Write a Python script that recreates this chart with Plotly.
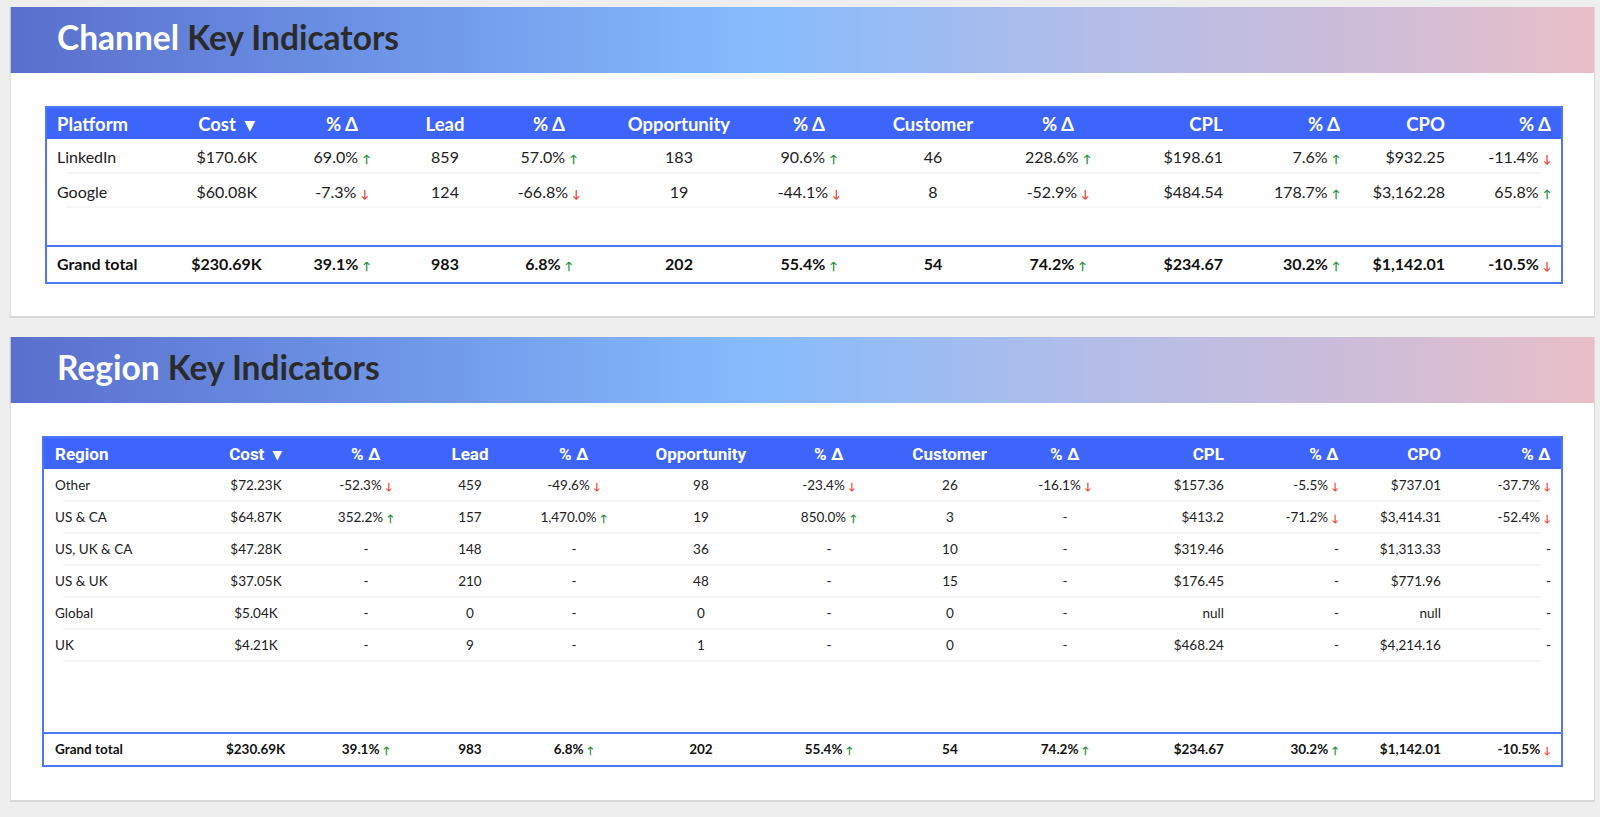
import plotly.graph_objects as go

W, H = 1600, 817

# ---------------- Channel data ----------------
platforms = ["LinkedIn", "Google"]
ch_cost_k = [170.6, 60.08]
ch_cost_chg = [69.0, -7.3]
ch_lead = [859, 124]
ch_lead_chg = [57.0, -66.8]
ch_opp = [183, 19]
ch_opp_chg = [90.6, -44.1]
ch_cust = [46, 8]
ch_cust_chg = [228.6, -52.9]
ch_cpl = [198.61, 484.54]
ch_cpl_chg = [7.6, 178.7]
ch_cpo = [932.25, 3162.28]
ch_cpo_chg = [-11.4, 65.8]

# ---------------- Region data ----------------
regions = ["Other", "US & CA", "US, UK & CA", "US & UK", "Global", "UK"]
rg_cost_k = [72.23, 64.87, 47.28, 37.05, 5.04, 4.21]
rg_cost_chg = [-52.3, 352.2, None, None, None, None]
rg_lead = [459, 157, 148, 210, 0, 9]
rg_lead_chg = [-49.6, 1470.0, None, None, None, None]
rg_opp = [98, 19, 36, 48, 0, 1]
rg_opp_chg = [-23.4, 850.0, None, None, None, None]
rg_cust = [26, 3, 10, 15, 0, 0]
rg_cust_chg = [-16.1, None, None, None, None, None]
rg_cpl = [157.36, 413.2, 319.46, 176.45, None, 468.24]
rg_cpl_chg = [-5.5, -71.2, None, None, None, None]
rg_cpo = [737.01, 3414.31, 1313.33, 771.96, None, 4214.16]
rg_cpo_chg = [-37.7, -52.4, None, None, None, None]

# grand totals (same for both tables)
total_cost_k = 230.69
total_cost_chg = 39.1
total_lead = 983
total_lead_chg = 6.8
total_opp = 202
total_opp_chg = 55.4
total_cust = 54
total_cust_chg = 74.2
total_cpl = 234.67
total_cpl_chg = 30.2
total_cpo = 1142.01
total_cpo_chg = -10.5

metric_headers = ["Cost\u00a0\u00a0▾", "%\u00a0Δ", "Lead", "%\u00a0Δ", "Opportunity", "%\u00a0Δ",
                  "Customer", "%\u00a0Δ", "CPL", "%\u00a0Δ", "CPO", "%\u00a0Δ"]

BLUE = "#3d65fb"
BORDER = "#4f76f6"
UP = "#1e8e3e"
DOWN = "#ea4335"
TXT = "#212121"
CLEAR = "rgba(0,0,0,0)"


def px_x(x):
    return x / W


def px_y(y):
    return 1 - y / H


def money_k(v):
    return f"${v}K"


def money(v):
    return "null" if v is None else f"${v:,}"


def pct(v, asize=11):
    if v is None:
        return "-"
    color = UP if v > 0 else DOWN
    sym = "↑" if v > 0 else "↓"
    # trailing <br> keeps the table from word-wrapping inside the span tag
    return f"{v:,.1f}%\u00a0<span style='color:{color};font-size:{asize}px'><b>{sym}</b></span><br>"


def mk(v):
    # every body cell goes through the same markup path so rows line up
    return f"<span>{v}</span>"


def body_columns(names, cost, cost_c, lead, lead_c, opp, opp_c, cust, cust_c, cpl, cpl_c, cpo, cpo_c, asize):
    cols = [
        names,
        [money_k(v) for v in cost], [pct(v, asize) for v in cost_c],
        [str(v) for v in lead], [pct(v, asize) for v in lead_c],
        [str(v) for v in opp], [pct(v, asize) for v in opp_c],
        [str(v) for v in cust], [pct(v, asize) for v in cust_c],
        [money(v) for v in cpl], [pct(v, asize) for v in cpl_c],
        [money(v) for v in cpo], [pct(v, asize) for v in cpo_c],
    ]
    return [[mk(v) for v in c] for c in cols]


def total_row(asize):
    vals = ["Grand\u00a0total", money_k(total_cost_k), pct(total_cost_chg, asize),
            str(total_lead), pct(total_lead_chg, asize), str(total_opp), pct(total_opp_chg, asize),
            str(total_cust), pct(total_cust_chg, asize), money(total_cpl), pct(total_cpl_chg, asize),
            money(total_cpo), pct(total_cpo_chg, asize)]
    return [f"<b>{v}</b>" for v in vals]


ALIGN = ["left"] + ["center"] * 8 + ["right"] * 4

fig = go.Figure()
shapes = []
annotations = []

# page cards
cards = [(10.7, 7, 1594, 316, 73), (10.7, 337, 1594, 800, 403)]
for (x0, y0, x1, y1, yb) in cards:
    shapes.append(dict(type="rect", xref="paper", yref="paper", layer="below",
                       x0=px_x(x0 - 1), x1=px_x(x1 + 1), y0=px_y(y0), y1=px_y(y1 + 2),
                       fillcolor="#d8d8d8", line=dict(width=0)))
    shapes.append(dict(type="rect", xref="paper", yref="paper", layer="below",
                       x0=px_x(x0), x1=px_x(x1), y0=px_y(y0), y1=px_y(y1),
                       fillcolor="white", line=dict(width=0)))
    fig.add_trace(go.Scatter(
        x=[x0, x1, x1, x0, x0], y=[y0, y0, yb, yb, y0], mode="lines", fill="toself",
        line=dict(width=0), hoverinfo="skip", showlegend=False,
        fillgradient=dict(type="horizontal", colorscale=[
            [0, "#5a6fcd"], [0.22, "#6c92e5"], [0.47, "#85bbfd"],
            [0.68, "#b2bde8"], [0.85, "#cdbdd9"], [1, "#e8bfc7"]])))

titles = [("Channel", 37), ("Region", 367)]
for word, yc in titles:
    annotations.append(dict(
        xref="paper", yref="paper", x=px_x(55), y=px_y(yc), xanchor="left", yanchor="middle",
        showarrow=False, font=dict(family="Lato", size=33.5, color="white"),
        text=f"<b>{word} <span style='color:#2b2b2b'>Key Indicators</span></b>"))


def add_table(first_header, cols, widths, left, right, top, header_h, row_h, total_y, bottom,
              hfont, bfont, bsize, hsize, asize, inset):
    n_rows = len(cols[0])
    # text sits a little further in from the border than plotly's cell padding
    xdom = [px_x(left + inset), px_x(right - 3)]
    widths = [widths[0] - inset] + widths[1:-1] + [widths[-1] - 3]
    empty = [[] for _ in widths]
    # header band
    shapes.append(dict(type="rect", xref="paper", yref="paper", layer="below",
                       x0=px_x(left), x1=px_x(right), y0=px_y(top), y1=px_y(top + header_h),
                       fillcolor=BLUE, line=dict(width=0)))
    # header labels
    hh = round(hsize * 1.2 + 16)
    ht = top + header_h / 2 + 1.5 - 8 - hsize * 0.6
    fig.add_trace(go.Table(
        domain=dict(x=xdom, y=[px_y(ht + hh), px_y(ht)]),
        columnwidth=widths,
        header=dict(values=[f"<b>{first_header}</b>"] + [f"<b>{h}</b>" for h in metric_headers],
                    fill_color=CLEAR, line_color=CLEAR, align=ALIGN, height=hh,
                    font=dict(family=hfont, size=hsize, color="white")),
        cells=dict(values=empty, fill_color=CLEAR, line_color=CLEAR)))
    # body rows (blank spacer header of the same height as the band)
    fig.add_trace(go.Table(
        domain=dict(x=xdom, y=[px_y(total_y), px_y(top)]),
        columnwidth=widths,
        header=dict(values=[""] * len(widths), fill_color=CLEAR, line_color=CLEAR, height=header_h),
        cells=dict(values=cols, fill_color=CLEAR, line_color=CLEAR, align=ALIGN, height=row_h,
                   font=dict(family=bfont, size=bsize, color=TXT))))
    # grand total row
    fig.add_trace(go.Table(
        domain=dict(x=xdom, y=[px_y(bottom), px_y(total_y)]),
        columnwidth=widths,
        header=dict(values=total_row(asize), fill_color=CLEAR, line_color=CLEAR, align=ALIGN,
                    height=bottom - total_y, font=dict(family=bfont, size=bsize, color="#111111")),
        cells=dict(values=empty, fill_color=CLEAR, line_color=CLEAR)))
    for i in range(n_rows):
        ys = top + header_h + (i + 1) * row_h
        shapes.append(dict(type="line", xref="paper", yref="paper", layer="below",
                           x0=px_x(left + 20), x1=px_x(right - 20), y0=px_y(ys), y1=px_y(ys),
                           line=dict(color="#eeeeee", width=1)))
    shapes.append(dict(type="rect", xref="paper", yref="paper", layer="above",
                       x0=px_x(left), x1=px_x(right), y0=px_y(top), y1=px_y(bottom),
                       line=dict(color=BORDER, width=2)))
    shapes.append(dict(type="line", xref="paper", yref="paper", layer="above",
                       x0=px_x(left), x1=px_x(right), y0=px_y(total_y), y1=px_y(total_y),
                       line=dict(color=BORDER, width=2)))


ch_cols = body_columns(platforms, ch_cost_k, ch_cost_chg, ch_lead, ch_lead_chg, ch_opp, ch_opp_chg,
                       ch_cust, ch_cust_chg, ch_cpl, ch_cpl_chg, ch_cpo, ch_cpo_chg, 11)
add_table("Platform", ch_cols, [123, 116, 114, 92, 116, 144, 116, 132, 118, 114, 117, 105, 109],
          46, 1562, 107, 32, 34, 246, 283, "Lato", "Lato", 16, 18.5, 11, 3)

rg_cols = body_columns(regions, rg_cost_k, rg_cost_chg, rg_lead, rg_lead_chg, rg_opp, rg_opp_chg,
                       rg_cust, rg_cust_chg, rg_cpl, rg_cpl_chg, rg_cpo, rg_cpo_chg, 10)
add_table("Region", rg_cols, [157, 112, 108, 100, 108, 146, 110, 132, 98, 118, 115, 102, 113],
          43, 1562, 437, 32, 32, 733, 766, "Roboto", "Lato", 13.5, 17, 10, 4)

fig.update_layout(
    width=W, height=H, margin=dict(l=0, r=0, t=0, b=0),
    paper_bgcolor="#eeeeee", plot_bgcolor=CLEAR,
    xaxis=dict(range=[0, W], visible=False, fixedrange=True),
    yaxis=dict(range=[H, 0], visible=False, fixedrange=True),
    shapes=shapes, annotations=annotations, showlegend=False,
)

fig.write_html("out.html", config={"displayModeBar": False},
               post_script="document.body.style.margin='0px';")
